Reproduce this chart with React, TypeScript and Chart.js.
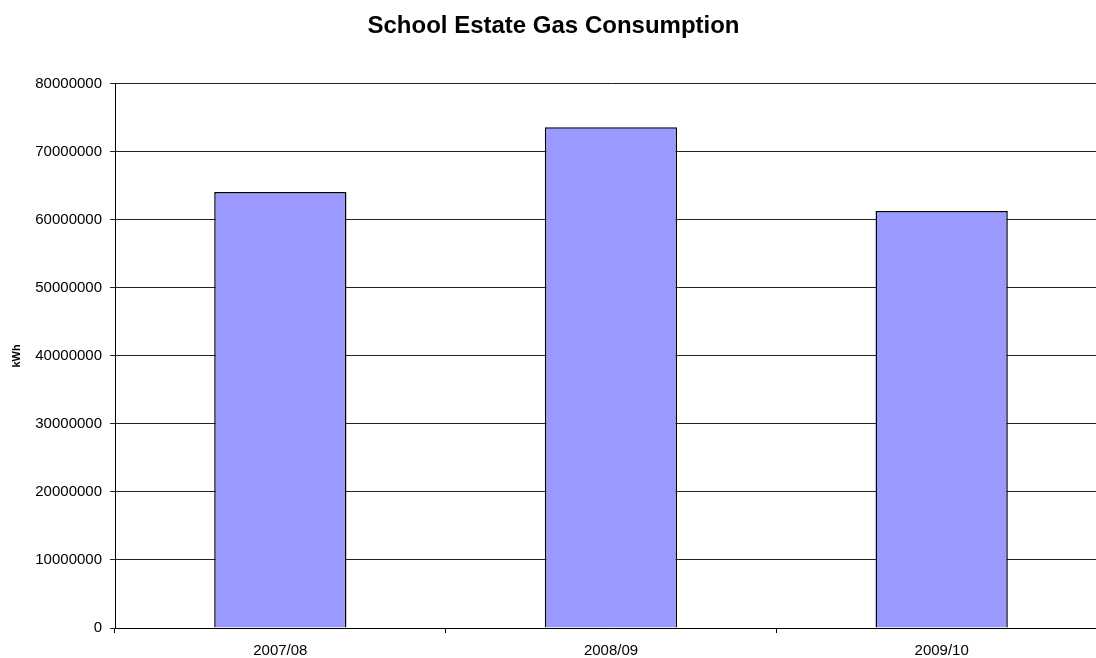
import React, { useEffect, useRef } from "react";
import { Chart, registerables } from "chart.js";

Chart.register(...registerables);

const categories = ["2007/08", "2008/09", "2009/10"];
const gasKWh = [64100000, 73600000, 61300000];
const yMax = 80000000;
const yStep = 10000000;
const chartTitle = "School Estate Gas Consumption";
const yTitle = "kWh";

const FONT = "'Liberation Sans', Arial, Helvetica, sans-serif";

export default function App() {
  const ref = useRef<HTMLCanvasElement | null>(null);

  useEffect(() => {
    if (!ref.current) return;
    const chart = new Chart(ref.current, {
      type: "bar",
      data: {
        labels: categories,
        datasets: [
          {
            label: "Gas",
            data: gasKWh,
            backgroundColor: "#9999FF",
            borderColor: "#000000",
            borderWidth: 1.5,
            categoryPercentage: 1,
            barPercentage: 0.4,
          },
        ],
      },
      options: {
        responsive: false,
        animation: false,
        devicePixelRatio: 1,
        layout: { padding: { left: 0, right: 3, top: 0, bottom: 0 } },
        plugins: {
          legend: { display: false },
          tooltip: { enabled: false },
          title: {
            display: true,
            text: chartTitle,
            color: "#000",
            font: { family: FONT, size: 24, weight: "bold" },
            padding: { top: 12, bottom: 43 },
          },
        },
        scales: {
          x: {
            offset: true,
            grid: {
              offset: true,
              drawOnChartArea: false,
              drawTicks: true,
              tickLength: 5,
              color: "#000",
            },
            border: { color: "#000", width: 1 },
            ticks: {
              color: "#000",
              font: { family: FONT, size: 15 },
              padding: 9,
              maxRotation: 0,
            },
            afterFit: (scale: any) => {
              scale.height = 30;
            },
          },
          y: {
            min: 0,
            max: yMax,
            grid: {
              color: "#222",
              lineWidth: 1,
              drawTicks: true,
              tickLength: 5,
            },
            border: { color: "#000", width: 1 },
            ticks: {
              stepSize: yStep,
              color: "#000",
              font: { family: FONT, size: 15 },
              padding: 8,
              callback: (v: any) => String(v),
            },
            title: {
              display: true,
              text: yTitle,
              color: "#000",
              font: { family: FONT, size: 11, weight: "bold" },
              padding: { top: 10, bottom: 0 },
            },
            afterFit: (scale: any) => {
              scale.width = 115;
            },
          },
        },
      },
    });
    return () => chart.destroy();
  }, []);

  return (
    <div
      style={{
        position: "absolute",
        left: 0,
        top: 0,
        width: 1096,
        height: 658,
        overflow: "hidden",
        background: "#fff",
      }}
    >
      <canvas ref={ref} width={1110} height={658} style={{ display: "block" }} />
    </div>
  );
}
